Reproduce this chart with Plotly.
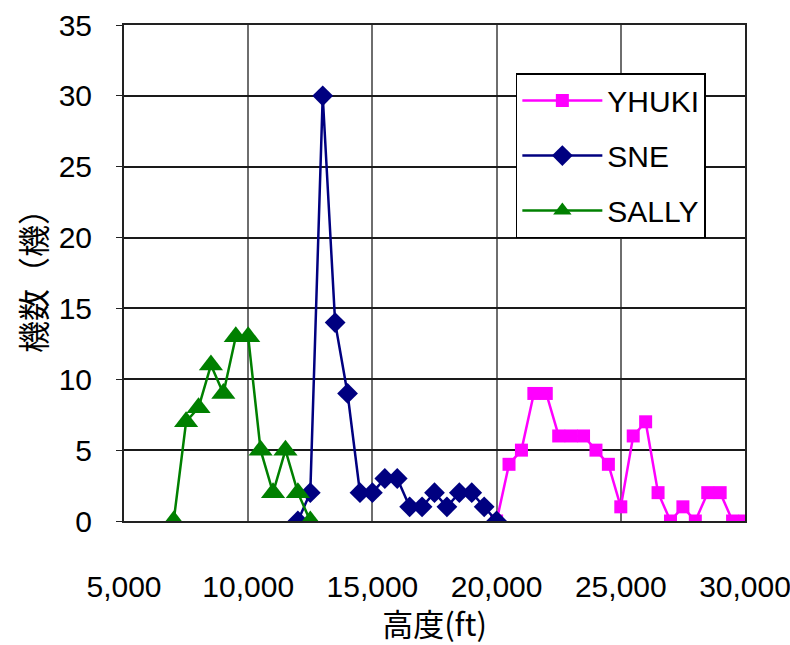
import plotly.graph_objects as go

# Altitude (ft) and aircraft counts per 500 ft band for each fix
yhuki_alt = [20000, 20500, 21000, 21500, 22000, 22500, 23000, 23500, 24000, 24500,
             25000, 25500, 26000, 26500, 27000, 27500, 28000, 28500, 29000, 29500, 30000]
yhuki_cnt = [0, 4, 5, 9, 9, 6, 6, 6, 5, 4, 1, 6, 7, 2, 0, 1, 0, 2, 2, 0, 0]

sne_alt = [12000, 12500, 13000, 13500, 14000, 14500, 15000, 15500, 16000, 16500,
           17000, 17500, 18000, 18500, 19000, 19500, 20000]
sne_cnt = [0, 2, 30, 14, 9, 2, 2, 3, 3, 1, 1, 2, 1, 2, 2, 1, 0]

sally_alt = [7000, 7500, 8000, 8500, 9000, 9500, 10000, 10500, 11000, 11500, 12000, 12500]
sally_cnt = [0, 7, 8, 11, 9, 13, 13, 5, 2, 5, 2, 0]

x_ticks = [5000, 10000, 15000, 20000, 25000, 30000]
x_ticktext = ["5,000", "10,000", "15,000", "20,000", "25,000", "30,000"]
y_ticks = [0, 5, 10, 15, 20, 25, 30, 35]

FONT = "Liberation Sans, Arial, sans-serif"
CJK = "Noto Sans CJK JP, sans-serif"

fig = go.Figure()
fig.add_trace(go.Scatter(
    x=yhuki_alt, y=yhuki_cnt, name="YHUKI", mode="lines+markers",
    line=dict(color="#FF00FF", width=2.5),
    marker=dict(symbol="square", size=13, color="#FF00FF"),
    legendgroup="a",
))
fig.add_trace(go.Scatter(
    x=sne_alt, y=sne_cnt, name="SNE", mode="lines+markers",
    line=dict(color="#000080", width=2.5),
    marker=dict(symbol="diamond", size=16, color="#000080"),
    legendgroup="b",
))
fig.add_trace(go.Scatter(
    x=sally_alt, y=sally_cnt, name="SALLY", mode="lines+markers",
    line=dict(color="#008000", width=2.5),
    marker=dict(symbol="triangle-up", size=21, color="#008000"),
    legendgroup="c",
))

fig.update_layout(
    width=790, height=645,
    margin=dict(l=124, r=45, t=25, b=124),
    paper_bgcolor="white", plot_bgcolor="white",
    font=dict(family=FONT, size=30, color="black"),
    showlegend=True,
    legend=dict(
        x=0.631, y=0.903, xanchor="left", yanchor="top",
        bgcolor="white", bordercolor="black", borderwidth=1.5,
        font=dict(family=FONT, size=30, color="black"),
        tracegroupgap=13, traceorder="grouped", itemwidth=80,
    ),
    xaxis=dict(
        range=[5000, 30000], tickvals=x_ticks, ticktext=x_ticktext,
        showgrid=True, gridcolor="#6e6e6e", gridwidth=1.5,
        showline=True, linecolor="#222", linewidth=2, mirror=True,
        ticks="", ticklabelstandoff=38, automargin=False,
        ticklabeloverflow="allow",
        title=dict(text="高度(ft)", font=dict(family=CJK, size=31), standoff=0),
        zeroline=False,
    ),
    yaxis=dict(
        range=[0, 35], tickvals=y_ticks,
        showgrid=True, gridcolor="#1a1a1a", gridwidth=1.5,
        showline=True, linecolor="#222", linewidth=2, mirror=True,
        ticks="outside", ticklen=6, tickcolor="#222", ticklabelstandoff=18,
        automargin=False,
        title=dict(text="機数（機）", font=dict(family=CJK, size=32), standoff=2),
        zeroline=False,
    ),
)

fig.write_html("out.html")
